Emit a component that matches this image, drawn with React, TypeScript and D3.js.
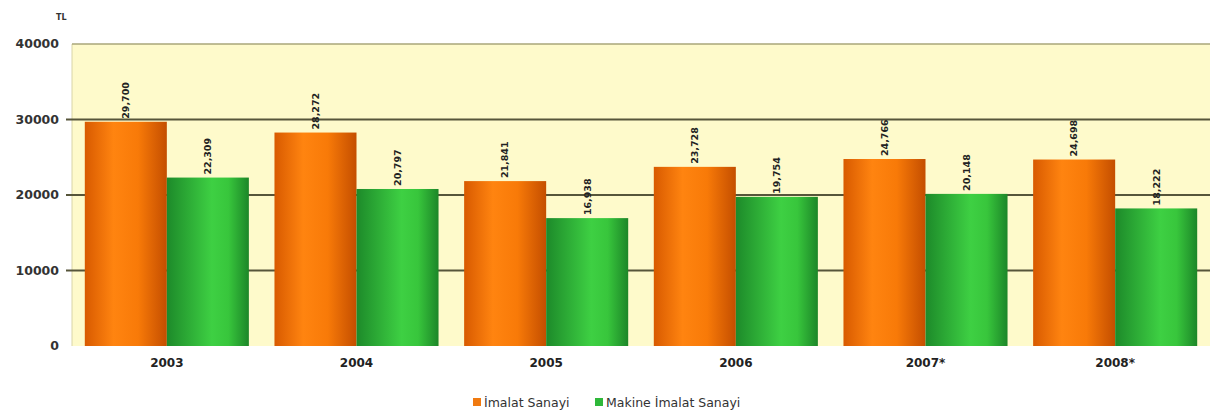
import React from "react";
import * as d3 from "d3";

const categories = ["2003", "2004", "2005", "2006", "2007*", "2008*"];
const imalat = [29700, 28272, 21841, 23728, 24766, 24698];
const makine = [22309, 20797, 16938, 19754, 20148, 18222];
const imalatLabels = ["29,700", "28,272", "21,841", "23,728", "24,766", "24,698"];
const makineLabels = ["22,309", "20,797", "16,938", "19,754", "20,148", "18,222"];
const yTicks = [0, 10000, 20000, 30000, 40000];
const seriesNames = ["İmalat Sanayi", "Makine İmalat Sanayi"];

const W = 1215;
const H = 419;
const M = { left: 72, right: 5, top: 44, bottom: 73 };

export default function App() {
  const x0 = d3
    .scaleBand()
    .domain(categories)
    .range([M.left, W - M.right])
    .paddingInner(0.135)
    .paddingOuter(0.0675);
  const x1 = d3.scaleBand().domain(["a", "b"]).range([0, x0.bandwidth()]);
  const y = d3.scaleLinear().domain([0, 40000]).range([H - M.bottom, M.top]);

  const series = [
    { key: "a", values: imalat, labels: imalatLabels, fill: "url(#gOrange)", color: "#f07a10" },
    { key: "b", values: makine, labels: makineLabels, fill: "url(#gGreen)", color: "#2fb83a" },
  ];

  const plotL = M.left;
  const plotR = W - M.right;
  const font = "'DejaVu Sans', Verdana, sans-serif";

  return (
    <svg width={W} height={H} style={{ position: "absolute", left: 0, top: 0 }}>
      <defs>
        <linearGradient id="gOrange" x1="0" x2="1" y1="0" y2="0">
          <stop offset="0" stopColor="#d85a00" />
          <stop offset="0.35" stopColor="#ff8410" />
          <stop offset="0.65" stopColor="#f87a08" />
          <stop offset="1" stopColor="#c44e00" />
        </linearGradient>
        <linearGradient id="gGreen" x1="0" x2="1" y1="0" y2="0">
          <stop offset="0" stopColor="#1d8a2a" />
          <stop offset="0.55" stopColor="#3ed043" />
          <stop offset="0.75" stopColor="#38c63c" />
          <stop offset="1" stopColor="#1c8628" />
        </linearGradient>
      </defs>
      <rect x={0} y={0} width={W} height={H} fill="#ffffff" />
      <rect x={plotL} y={y(40000)} width={plotR - plotL} height={y(0) - y(40000)} fill="#fefacb" />
      <line x1={plotL} x2={plotL} y1={y(40000)} y2={y(0)} stroke="#d8d4a8" strokeWidth={1} />
      {yTicks.map((t) => (
        <g key={t}>
          {t > 0 && (
            <line
              x1={t === 40000 ? plotL : plotL - 6}
              x2={plotR}
              y1={y(t)}
              y2={y(t)}
              stroke={t === 40000 ? "#a8a67a" : "#56553a"}
              strokeWidth={t === 40000 ? 1.5 : 2}
            />
          )}
          <text
            x={59}
            y={y(t)}
            dy="0.35em"
            textAnchor="end"
            fontFamily={font}
            fontWeight="bold"
            fontSize={12.5}
            fill="#333"
          >
            {t}
          </text>
        </g>
      ))}
      <text x={56} y={20} fontFamily={font} fontWeight="bold" fontSize={8} fill="#333">
        TL
      </text>
      {categories.map((c, i) => (
        <g key={c}>
          {series.map((s) => {
            const bx = (x0(c) as number) + (x1(s.key) as number);
            const bw = x1.bandwidth();
            const top = y(s.values[i]);
            return (
              <g key={s.key}>
                <rect x={bx} y={top} width={bw} height={y(0) - top} fill={s.fill} />
                <text
                  transform={`translate(${bx + bw / 2},${top - 3}) rotate(-90)`}
                  dy="0.35em"
                  textAnchor="start"
                  fontFamily={font}
                  fontWeight="bold"
                  fontSize={9.5}
                  fill="#222"
                >
                  {s.labels[i]}
                </text>
              </g>
            );
          })}
          <text
            x={(x0(c) as number) + x0.bandwidth() / 2}
            y={y(0) + 21}
            textAnchor="middle"
            fontFamily={font}
            fontWeight="bold"
            fontSize={12}
            fill="#222"
          >
            {c}
          </text>
        </g>
      ))}
      <g transform="translate(473,407)">
        <rect x={0} y={-9} width={8} height={8} fill="#f07a10" />
        <text x={11} y={0} fontFamily={font} fontSize={12.5} fill="#333">
          {seriesNames[0]}
        </text>
        <rect x={122} y={-9} width={8} height={8} fill="#2fb83a" />
        <text x={133} y={0} fontFamily={font} fontSize={12.5} fill="#333">
          {seriesNames[1]}
        </text>
      </g>
    </svg>
  );
}
